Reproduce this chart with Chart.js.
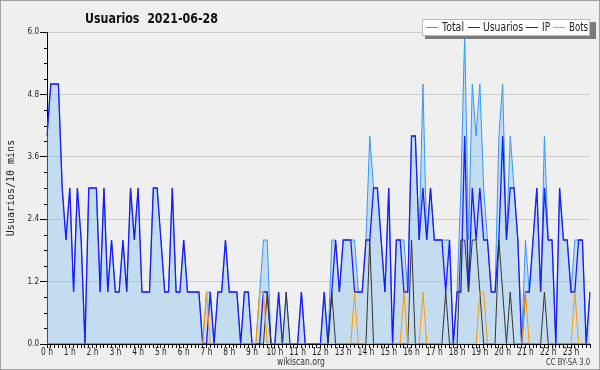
<!DOCTYPE html>
<html>
<head>
<meta charset="utf-8">
<title>Usuarios 2021-06-28</title>
<script src="https://cdn.jsdelivr.net/npm/chart.js"></script>
<style>
  body { margin: 0; background: #efefef; }
  #wrap { width: 600px; height: 370px; }
</style>
</head>
<body>
<div id="wrap"><canvas id="myChart" width="600" height="370"></canvas></div>
<script>
// hour labels shown on the x axis, one every 6 slots
const hourLabels = ['0 h','1 h','2 h','3 h','4 h','5 h','6 h','7 h','8 h','9 h','10 h','11 h',
  '12 h','13 h','14 h','15 h','16 h','17 h','18 h','19 h','20 h','21 h','22 h','23 h'];

// 10 minute slots of the day
const slots = [];
for (let h = 0; h < 24; h++) {
  for (let m = 0; m < 60; m += 10) slots.push(h + ':' + String(m).padStart(2, '0'));
}

// one row = 2 hours (12 slots)
const total = [
  4,5,5,5,3,2,3,1,3,2,0,3,
  3,3,1,3,1,2,1,1,2,1,3,2,
  3,1,1,1,3,3,2,1,1,3,1,1,
  2,1,1,1,1,0,1,1,0,1,1,2,
  1,1,1,0,1,1,0,0,1,2,2,0,
  0,1,0,1,0,0,0,1,0,0,0,0,
  0,1,0,2,2,1,2,2,2,2,1,1,
  2,4,3,3,2,1,3,0,2,2,2,1,
  4,4,2,5,2,3,2,2,2,2,2,0,
  1,3,6,2,5,4,5,3,2,1,1,4,
  5,2,4,3,2,0,2,1,2,3,1,4,
  2,2,0,3,2,2,1,2,2,2,0,1
];
const usuarios = [
  4,5,5,5,3,2,3,1,3,2,0,3,
  3,3,1,3,1,2,1,1,2,1,3,2,
  3,1,1,1,3,3,2,1,1,3,1,1,
  2,1,1,1,1,0,0,1,0,1,1,2,
  1,1,1,0,1,1,0,0,0,1,1,0,
  0,1,0,0,0,0,0,1,0,0,0,0,
  0,1,0,1,2,1,2,2,2,1,1,1,
  2,2,3,3,2,1,3,0,2,2,1,1,
  4,4,2,3,2,3,2,2,2,1,2,0,
  1,1,4,1,3,2,3,2,2,1,1,2,
  4,2,3,3,2,0,1,1,2,3,1,3,
  2,2,0,3,2,2,1,1,2,2,0,1
];
const ip = [
  0,0,0,0,0,0,0,0,0,0,0,0,
  0,0,0,0,0,0,0,0,0,0,0,0,
  0,0,0,0,0,0,0,0,0,0,0,0,
  0,0,0,0,0,0,0,0,0,0,0,0,
  0,0,0,0,0,0,0,0,0,0,1,0,
  0,0,0,1,0,0,0,0,0,0,0,0,
  0,0,0,1,0,0,0,0,0,0,0,0,
  0,2,0,0,0,0,0,0,0,0,0,0,
  2,0,0,0,0,0,0,0,0,1,0,0,
  0,2,2,1,2,2,1,0,0,0,0,2,
  1,0,1,0,0,0,0,0,0,0,0,1,
  0,0,0,0,0,0,0,0,0,0,0,0
];
const bots = [
  0,0,0,0,0,0,0,0,0,0,0,0,
  0,0,0,0,0,0,0,0,0,0,0,0,
  0,0,0,0,0,0,0,0,0,0,0,0,
  0,0,0,0,0,0,1,0,0,0,0,0,
  0,0,0,0,0,0,0,0,1,1,0,0,
  0,0,0,0,0,0,0,0,0,0,0,0,
  0,0,0,0,0,0,0,0,0,1,0,0,
  0,0,0,0,0,0,0,0,0,0,1,0,
  0,0,0,1,0,0,0,0,0,0,0,0,
  0,0,0,0,0,0,1,1,0,0,0,0,
  0,0,0,0,0,0,1,0,0,0,0,0,
  0,0,0,0,0,0,0,1,0,0,0,0
];

const sans = '"DejaVu Sans", sans-serif';

// text squeezed horizontally (the original uses a narrow face);
// fit > 1 is a target width in px, otherwise a scale factor
function narrowText(ctx, txt, x, y, size, fit, align, weight) {
  ctx.save();
  ctx.font = (weight ? weight + ' ' : '') + size + 'px ' + sans;
  const raw = ctx.measureText(txt).width;
  const sx = fit > 1 ? fit / raw : fit;
  const w = raw * sx;
  let left = x;
  if (align === 'center') left = x - w / 2;
  else if (align === 'right') left = x - w;
  ctx.translate(left, y);
  ctx.scale(sx, 1);
  ctx.textAlign = 'left';
  ctx.textBaseline = 'middle';
  ctx.fillText(txt, 0, 0);
  ctx.restore();
}

// background, border, title, legend box, footer, axis labels, minor y ticks
const decor = {
  id: 'decor',
  beforeDraw(chart) {
    const ctx = chart.ctx;
    ctx.save();
    ctx.fillStyle = '#efefef';
    ctx.fillRect(0, 0, chart.width, chart.height);
    ctx.restore();
  },
  afterDraw(chart) {
    const ctx = chart.ctx;
    const area = chart.chartArea;
    const x = chart.scales.x;
    const y = chart.scales.y;
    ctx.save();
    // outer frame
    ctx.strokeStyle = '#a0a0a0';
    ctx.lineWidth = 1;
    ctx.strokeRect(0.5, 0.5, chart.width - 1, chart.height - 1);

    // minor ticks on the y axis
    ctx.strokeStyle = '#000';
    ctx.beginPath();
    for (let k = 0; k <= 20; k++) {
      if (k % 4 === 0) continue;
      const py = Math.round(y.getPixelForValue(k * 0.3)) + 0.5;
      ctx.moveTo(area.left - 3, py);
      ctx.lineTo(area.left, py);
    }
    ctx.stroke();

    // y tick labels
    ctx.fillStyle = '#222';
    y.ticks.forEach(t => {
      narrowText(ctx, t.value.toFixed(1), area.left - 8, y.getPixelForValue(t.value), 8.5, 0.85, 'right');
    });
    // x hour labels
    hourLabels.forEach((lab, h) => {
      narrowText(ctx, lab, x.getPixelForValue(h * 6), area.bottom + 8, 10, 0.75, 'center');
    });

    // title
    ctx.fillStyle = '#111';
    narrowText(ctx, 'Usuarios  2021-06-28', 85, 19, 14, 133, 'left', 'bold');

    // y axis title
    ctx.save();
    ctx.translate(11, (area.top + area.bottom) / 2);
    ctx.rotate(-Math.PI / 2);
    ctx.textAlign = 'center';
    ctx.textBaseline = 'middle';
    ctx.font = '10px "DejaVu Sans Mono", monospace';
    ctx.fillStyle = '#222';
    ctx.fillText('Usuarios/10 mins', 0, 0);
    ctx.restore();

    // legend
    ctx.fillStyle = '#7a7a7a';
    ctx.fillRect(425, 22, 171, 17);
    ctx.fillStyle = '#fff';
    ctx.fillRect(422, 19, 168, 17);
    ctx.strokeStyle = '#bbb';
    ctx.strokeRect(422.5, 19.5, 167, 16);
    const items = [
      ['Total', '#3399ff', 426, 442, 22],
      ['Usuarios', '#1a1aff', 468, 483, 40],
      ['IP', '#333333', 526, 542, 8],
      ['Bots', '#ff9900', 553, 569, 19]
    ];
    items.forEach(([txt, col, lx, tx, tw]) => {
      ctx.strokeStyle = col;
      ctx.beginPath();
      ctx.moveTo(lx, 27.5);
      ctx.lineTo(lx + 12, 27.5);
      ctx.stroke();
      ctx.fillStyle = '#222';
      narrowText(ctx, txt, tx, 28, 12, tw, 'left');
    });

    // footer
    ctx.fillStyle = '#333';
    narrowText(ctx, 'wikiscan.org', 301, 362.5, 10, 48, 'center');
    narrowText(ctx, 'CC BY-SA 3.0', 590, 363, 8, 44, 'right');
    ctx.restore();
  }
};

const ctx = document.getElementById('myChart').getContext('2d');
const myChart = new Chart(ctx, {
  type: 'line',
  data: {
    labels: slots,
    datasets: [
      {
        label: 'Total',
        data: total,
        borderColor: '#3399ff',
        backgroundColor: 'rgba(137,192,240,0.42)',
        borderWidth: 1,
        fill: 'origin',
        order: 4
      },
      {
        label: 'Usuarios',
        data: usuarios,
        borderColor: '#1a1aff',
        borderWidth: 1.3,
        fill: false,
        order: 3
      },
      {
        label: 'IP',
        data: ip,
        borderColor: '#333333',
        borderWidth: 1,
        fill: false,
        order: 2
      },
      {
        label: 'Bots',
        data: bots,
        borderColor: '#ff9900',
        borderWidth: 1,
        fill: false,
        order: 1
      }
    ]
  },
  options: {
    responsive: false,
    animation: false,
    layout: { padding: { top: 32, right: 10, left: 0, bottom: 0 } },
    elements: {
      point: { radius: 0 },
      line: { tension: 0 }
    },
    plugins: {
      legend: { display: false },
      tooltip: { enabled: false }
    },
    scales: {
      x: {
        type: 'category',
        offset: false,
        grid: { drawOnChartArea: false, color: '#000', tickLength: 4 },
        border: { color: '#000' },
        ticks: { display: false, autoSkip: false, maxRotation: 0 },
        afterFit: s => { s.height = 26; }
      },
      y: {
        min: 0,
        max: 6,
        grid: { color: '#cccccc', tickColor: '#000', tickLength: 7 },
        border: { color: '#000' },
        ticks: { display: false, stepSize: 1.2 },
        afterFit: s => { s.width = 47; }
      }
    }
  },
  plugins: [decor]
});
</script>
</body>
</html>
